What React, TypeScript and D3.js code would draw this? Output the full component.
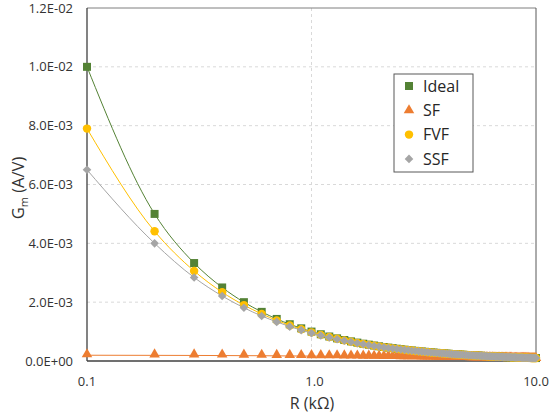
import React from "react";
import * as d3 from "d3";

// R in kOhm
const rValues = [
  0.1, 0.2, 0.3, 0.4, 0.5, 0.6, 0.7, 0.8, 0.9, 1.0,
  1.1, 1.2, 1.3, 1.4, 1.5, 1.6, 1.7, 1.8, 1.9, 2.0,
  2.1, 2.2, 2.3, 2.4, 2.5, 2.6, 2.7, 2.8, 2.9, 3.0,
  3.1, 3.2, 3.3, 3.4, 3.5, 3.6, 3.7, 3.8, 3.9, 4.0,
  4.1, 4.2, 4.3, 4.4, 4.5, 4.6, 4.7, 4.8, 4.9, 5.0,
  5.1, 5.2, 5.3, 5.4, 5.5, 5.6, 5.7, 5.8, 5.9, 6.0,
  6.1, 6.2, 6.3, 6.4, 6.5, 6.6, 6.7, 6.8, 6.9, 7.0,
  7.1, 7.2, 7.3, 7.4, 7.5, 7.6, 7.7, 7.8, 7.9, 8.0,
  8.1, 8.2, 8.3, 8.4, 8.5, 8.6, 8.7, 8.8, 8.9, 9.0,
  9.1, 9.2, 9.3, 9.4, 9.5, 9.6, 9.7, 9.8, 9.9, 10.0,
];

// Gm values in mA/V (axis shows A/V)
const idealGm = [
  10, 5, 3.33, 2.5, 2, 1.67, 1.43, 1.25, 1.11, 1,
  0.909, 0.833, 0.769, 0.714, 0.667, 0.625, 0.588, 0.556, 0.526, 0.5,
  0.476, 0.455, 0.435, 0.417, 0.4, 0.385, 0.37, 0.357, 0.345, 0.333,
  0.323, 0.313, 0.303, 0.294, 0.286, 0.278, 0.27, 0.263, 0.256, 0.25,
  0.244, 0.238, 0.233, 0.227, 0.222, 0.217, 0.213, 0.208, 0.204, 0.2,
  0.196, 0.192, 0.189, 0.185, 0.182, 0.179, 0.175, 0.172, 0.169, 0.167,
  0.164, 0.161, 0.159, 0.156, 0.154, 0.152, 0.149, 0.147, 0.145, 0.143,
  0.141, 0.139, 0.137, 0.135, 0.133, 0.132, 0.13, 0.128, 0.127, 0.125,
  0.123, 0.122, 0.12, 0.119, 0.118, 0.116, 0.115, 0.114, 0.112, 0.111,
  0.11, 0.109, 0.108, 0.106, 0.105, 0.104, 0.103, 0.102, 0.101, 0.1,
];

const sfGm = [
  0.196, 0.192, 0.189, 0.185, 0.182, 0.179, 0.175, 0.172, 0.169, 0.167,
  0.164, 0.161, 0.159, 0.156, 0.154, 0.152, 0.149, 0.147, 0.145, 0.143,
  0.141, 0.139, 0.137, 0.135, 0.133, 0.132, 0.13, 0.128, 0.127, 0.125,
  0.123, 0.122, 0.12, 0.119, 0.118, 0.116, 0.115, 0.114, 0.112, 0.111,
  0.11, 0.109, 0.108, 0.106, 0.105, 0.104, 0.103, 0.102, 0.101, 0.1,
  0.099, 0.098, 0.0971, 0.0962, 0.0952, 0.0943, 0.0935, 0.0926, 0.0917, 0.0909,
  0.0901, 0.0893, 0.0885, 0.0877, 0.087, 0.0862, 0.0855, 0.0847, 0.084, 0.0833,
  0.0826, 0.082, 0.0813, 0.0806, 0.08, 0.0794, 0.0787, 0.0781, 0.0775, 0.0769,
  0.0763, 0.0758, 0.0752, 0.0746, 0.0741, 0.0735, 0.073, 0.0725, 0.0719, 0.0714,
  0.0709, 0.0704, 0.0699, 0.0694, 0.069, 0.0685, 0.068, 0.0676, 0.0671, 0.0667,
];

const fvfGm = [
  7.9, 4.41, 3.06, 2.34, 1.9, 1.6, 1.38, 1.21, 1.08, 0.974,
  0.888, 0.815, 0.754, 0.701, 0.655, 0.615, 0.579, 0.548, 0.519, 0.493,
  0.47, 0.449, 0.43, 0.412, 0.396, 0.381, 0.367, 0.354, 0.342, 0.33,
  0.32, 0.31, 0.301, 0.292, 0.284, 0.276, 0.268, 0.261, 0.255, 0.248,
  0.242, 0.237, 0.231, 0.226, 0.221, 0.216, 0.212, 0.207, 0.203, 0.199,
  0.195, 0.191, 0.188, 0.184, 0.181, 0.178, 0.175, 0.172, 0.169, 0.166,
  0.163, 0.161, 0.158, 0.156, 0.153, 0.151, 0.149, 0.147, 0.144, 0.142,
  0.14, 0.138, 0.136, 0.135, 0.133, 0.131, 0.129, 0.128, 0.126, 0.125,
  0.123, 0.121, 0.12, 0.119, 0.117, 0.116, 0.115, 0.113, 0.112, 0.111,
  0.11, 0.108, 0.107, 0.106, 0.105, 0.104, 0.103, 0.102, 0.101, 0.0997,
];

const ssfGm = [
  6.5, 4.0, 2.84, 2.21, 1.81, 1.53, 1.33, 1.17, 1.05, 0.949,
  0.867, 0.798, 0.739, 0.688, 0.644, 0.605, 0.57, 0.54, 0.512, 0.487,
  0.464, 0.444, 0.425, 0.408, 0.391, 0.377, 0.363, 0.35, 0.339, 0.328,
  0.317, 0.307, 0.298, 0.29, 0.281, 0.274, 0.266, 0.26, 0.253, 0.247,
  0.241, 0.235, 0.23, 0.225, 0.22, 0.215, 0.21, 0.206, 0.202, 0.198,
  0.194, 0.19, 0.187, 0.183, 0.18, 0.177, 0.174, 0.171, 0.168, 0.165,
  0.162, 0.16, 0.157, 0.155, 0.153, 0.15, 0.148, 0.146, 0.144, 0.142,
  0.14, 0.138, 0.136, 0.134, 0.132, 0.131, 0.129, 0.127, 0.126, 0.124,
  0.123, 0.121, 0.12, 0.118, 0.117, 0.116, 0.114, 0.113, 0.112, 0.11,
  0.109, 0.108, 0.107, 0.106, 0.105, 0.104, 0.103, 0.102, 0.101, 0.0995,
];

const yTicks = [0, 2, 4, 6, 8, 10, 12];
const yTickLabels = ["0.0E+00", "2.0E-03", "4.0E-03", "6.0E-03", "8.0E-03", "1.0E-02", "1.2E-02"];
const xTicks = [0.1, 1, 10];
const xTickLabels = ["0.1", "1.0", "10.0"];

const seriesNames = ["Ideal", "SF", "FVF", "SSF"];
const seriesColors = ["#548235", "#ED7D31", "#FFC000", "#A5A5A5"];
const seriesShapes = ["square", "triangle", "circle", "diamond"];

const W = 549;
const H = 419;
const FONT = "'Open Sans', 'DejaVu Sans', sans-serif";

function markerPath(shape: string) {
  if (shape === "diamond") return "M0,-4.3L4.3,0L0,4.3L-4.3,0Z";
  const sym =
    shape === "square" ? d3.symbolSquare : shape === "triangle" ? d3.symbolTriangle : d3.symbolCircle;
  const size = shape === "square" ? 64 : shape === "triangle" ? 48 : 56;
  return d3.symbol().type(sym).size(size)() as string;
}

export default function App() {
  const left = 87;
  const right = 536;
  const top = 8;
  const bottom = 361;

  const x = d3.scaleLog().domain([0.1, 10]).range([left, right]);
  const y = d3.scaleLinear().domain([0, 12]).range([bottom, top]);

  const allSeries = [idealGm, sfGm, fvfGm, ssfGm];

  const line = d3
    .line<number>()
    .x((_, i) => x(rValues[i]))
    .y((d) => y(d))
    .curve(d3.curveMonotoneX);

  return (
    <svg
      width={W}
      height={H}
      style={{ position: "absolute", left: 0, top: 0, background: "#fff" }}
      fontFamily={FONT}
    >
      {/* gridlines */}
      {yTicks.slice(1, -1).map((t) => (
        <line
          key={"gy" + t}
          x1={left}
          x2={right}
          y1={y(t)}
          y2={y(t)}
          stroke="#d9d9d9"
          strokeDasharray="3,3"
        />
      ))}
      <line x1={x(1)} x2={x(1)} y1={top} y2={bottom} stroke="#d9d9d9" strokeDasharray="3,3" />

      {/* plot border */}
      <line x1={left} x2={right} y1={top} y2={top} stroke="#7f7f7f" />
      <line x1={right} x2={right} y1={top} y2={bottom} stroke="#595959" />
      <line x1={left} x2={right} y1={bottom} y2={bottom} stroke="#404040" strokeWidth={1.3} />
      <line x1={left} x2={left} y1={top} y2={bottom} stroke="#404040" strokeWidth={1.3} />

      {/* y tick labels */}
      {yTicks.map((t, i) => (
        <text
          key={"yt" + t}
          x={73}
          y={y(t)}
          dy="0.35em"
          textAnchor="end"
          fontSize={13}
          fill="#333"
        >
          {yTickLabels[i]}
        </text>
      ))}

      {/* x tick labels */}
      {xTicks.map((t, i) => (
        <text
          key={"xt" + t}
          x={x(t) + (i === 1 ? 3 : 0)}
          y={381}
          dy="0.35em"
          textAnchor="middle"
          fontSize={13}
          fill="#333"
        >
          {xTickLabels[i]}
        </text>
      ))}

      {/* axis titles */}
      <text x={312} y={403} dy="0.35em" textAnchor="middle" fontSize={16} fill="#333">
        R (kΩ)
      </text>
      <text
        transform="translate(18,188) rotate(-90)"
        textAnchor="middle"
        dy="0.35em"
        fontSize={16.5}
        fill="#333"
      >
        G<tspan fontSize={11} dy="4">m</tspan>
        <tspan dy="-4"> (A/V)</tspan>
      </text>

      {/* series */}
      {allSeries.map((vals, si) => (
        <g key={seriesNames[si]}>
          <path d={line(vals) as string} fill="none" stroke={seriesColors[si]} strokeWidth={1} />
          {vals.map((v, i) => (
            <path
              key={i}
              d={markerPath(seriesShapes[si])}
              transform={`translate(${x(rValues[i])},${y(v) + (seriesShapes[si] === "triangle" ? -1 : 0)})`}
              fill={seriesColors[si]}
            />
          ))}
        </g>
      ))}

      {/* legend */}
      <rect x={394} y={74} width={79} height={98} fill="#fff" stroke="#595959" strokeWidth={1} />
      {seriesNames.map((name, i) => {
        const ly = 86 + i * 24.3;
        return (
          <g key={"lg" + name}>
            <path
              d={markerPath(seriesShapes[i])}
              transform={`translate(409,${ly})`}
              fill={seriesColors[i]}
            />
            <text x={423} y={ly} dy="0.35em" fontSize={16} fill="#262626">
              {name}
            </text>
          </g>
        );
      })}
    </svg>
  );
}
